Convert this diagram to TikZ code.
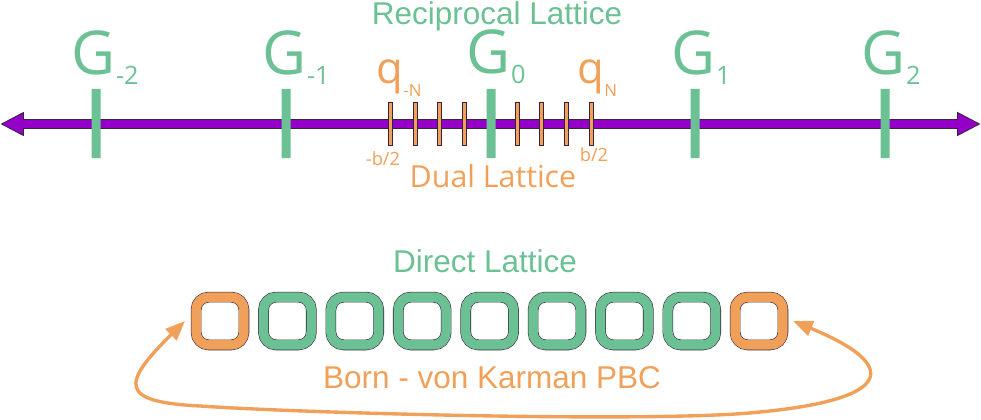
\documentclass[tikz,border=0pt]{standalone}
\usepackage{fontspec}
\setmainfont{Open Sans}
\newfontfamily\arialfont{Liberation Sans}
\definecolor{mygreen}{RGB}{108,193,148}
\definecolor{myorange}{RGB}{240,160,88}
\definecolor{mypurple}{RGB}{148,0,200}
\definecolor{myedge}{RGB}{55,35,60}
\usetikzlibrary{arrows.meta}
\newcommand{\glab}[1]{G\rlap{\raisebox{-6.6pt}{\fontsize{18}{18}\selectfont #1}}}
\newcommand{\qlab}[1]{q\rlap{\raisebox{-9.5pt}{\fontsize{12}{12}\selectfont #1}}}

\begin{document}
\begin{tikzpicture}[x=0.025cm,y=-0.025cm,
    cell/.style={draw=myedge,line width=0.4pt,double distance=6.8pt,rounded corners=9pt,
      minimum size=34pt,inner sep=0pt,outer sep=0pt},
    bigtext/.style={anchor=base,font=\arialfont\fontsize{22.4}{26}\selectfont}]
  \useasboundingbox (0,0) rectangle (981,420);
  \coordinate (axleft) at (0,124);
  \coordinate (axright) at (981,124);
  \draw[myedge,line width=7.4pt,{Triangle[length=17pt,width=16pt]}-{Triangle[length=17pt,width=16pt]}] (axleft) -- (axright);
  \draw[mypurple,line width=5.8pt,{Triangle[length=15pt,width=13.5pt]}-{Triangle[length=15pt,width=13.5pt]}] ([xshift=1.2pt]axleft) -- ([xshift=-1.2pt]axright);
  \fill[mygreen] foreach \x in {96,286,491,695,885}{(\x-4.5,89) rectangle (\x+4.5,158)};
  \filldraw[myorange,draw=myedge,line width=0.4pt] foreach \x in {390,415,439,464,517,541,566,591}{(\x-1.8,102) rectangle (\x+1.8,145)};
  \node[mygreen,bigtext] (reciprocal) at (497,25) {Reciprocal Lattice};
  \node[mygreen,anchor=base,font=\fontsize{43}{43}\selectfont] (gm2) at (94,75) {\glab{-2}};
  \node[mygreen,anchor=base,font=\fontsize{43}{43}\selectfont] (gm1) at (285,75) {\glab{-1}};
  \node[mygreen,anchor=base,font=\fontsize{43}{43}\selectfont] (g0) at (489,74) {\glab{0}};
  \node[mygreen,anchor=base,font=\fontsize{43}{43}\selectfont] (g1) at (694,75) {\glab{1}};
  \node[mygreen,anchor=base,font=\fontsize{43}{43}\selectfont] (g2) at (884,75) {\glab{2}};
  \node[myorange,anchor=base,font=\fontsize{31}{31}\selectfont] (qmn) at (390,83) {\qlab{-N}};
  \node[myorange,anchor=base,font=\fontsize{31}{31}\selectfont] (qn) at (591,83) {\qlab{N}};
  \node[myorange,font=\fontsize{13}{13}\selectfont] (bleft) at (383,159) {-b/2};
  \node[myorange,font=\fontsize{13}{13}\selectfont] (bright) at (594,155) {b/2};
  \node[myorange,anchor=base,font=\fontsize{21.6}{24}\selectfont] (dual) at (493,187) {Dual Lattice};
  \node[mygreen,bigtext] (direct) at (485,272) {Direct Lattice};
  \foreach \i in {2,...,8} \node[cell,double=mygreen] (b\i) at ({220+67.4*(\i-1)},321) {};
  \node[cell,double=myorange] (b1) at (220,321) {};
  \node[cell,double=myorange] (b9) at (759,321) {};
  \node[myorange,bigtext] (pbc) at (492,388) {Born - von Karman PBC};
  \draw[myorange,line width=2.4pt,{Triangle[length=14pt,width=11pt]}-{Triangle[length=14pt,width=11pt]}]
    ([xshift=-7.9pt]b1.west) .. controls (120,385) and (120,402) .. (200,406)
    .. controls (300,413) and (660,423) .. (760,412)
    .. controls (895,399) and (900,365) .. ([xshift=7.2pt]b9.east);
\end{tikzpicture}
\end{document}
